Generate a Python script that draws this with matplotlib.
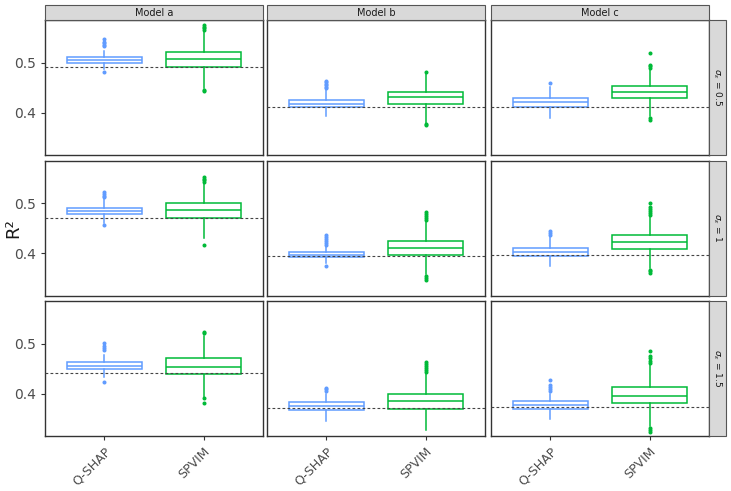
import matplotlib
matplotlib.use("Agg")
import matplotlib.pyplot as plt
from matplotlib.patches import Rectangle

models = ["Model a", "Model b", "Model c"]
sigmas = ["0.5", "1", "1.5"]
methods = ["Q-SHAP", "SPVIM"]
colors = ["#619CFF", "#00BA38"]

# [row (sigma)][col (model)][method]
q1 = [[[.500, .492], [.412, .418], [.412, .430]],
      [[.478, .471], [.392, .397], [.394, .409]],
      [[.449, .440], [.368, .369], [.370, .381]]]
med = [[[.506, .507], [.418, .431], [.422, .442]],
       [[.484, .486], [.396, .411], [.402, .423]],
       [[.455, .453], [.375, .386], [.378, .396]]]
q3 = [[[.512, .522], [.426, .442], [.430, .453]],
      [[.490, .500], [.402, .424], [.411, .436]],
      [[.464, .471], [.383, .400], [.385, .413]]]
whislo = [[[.488, .450], [.394, .380], [.390, .393]],
          [[.461, .430], [.380, .358], [.375, .370]],
          [[.433, .390], [.346, .327], [.349, .336]]]
whishi = [[[.524, .563], [.446, .478], [.452, .487]],
          [[.508, .540], [.414, .463], [.434, .472]],
          [[.478, .516], [.400, .441], [.400, .457]]]
fliers = [[[[.482, .533, .536, .539, .542, .548], [.443, .446, .566, .569, .572, .575]],
           [[.449, .452, .455, .458, .461, .464], [.376, .378, .482]],
           [[.460], [.385, .389, .490, .493, .496, .520]]],
          [[[.457, .512, .515, .519, .523], [.417, .543, .546, .549, .552]],
           [[.374, .417, .421, .425, .429, .433, .436], [.347, .350, .354, .467, .471, .475, .479, .483]],
           [[.437, .440, .444], [.360, .364, .367, .476, .480, .484, .488, .492, .501]]],
          [[[.424, .487, .491, .496, .502], [.381, .391, .521, .524]],
           [[.406, .409, .412], [.444, .448, .452, .456, .460, .464]],
           [[.405, .409, .413, .417, .428], [.324, .327, .331, .461, .466, .471, .476, .486]]]]
truth = [[.492, .412, .412],
         [.471, .395, .397],
         [.441, .371, .373]]
yticks = [0.4, 0.5]

W, H = 731, 491
fig = plt.figure(figsize=(W / 100, H / 100), dpi=100)

col_x = [45, 267, 491]
col_w = 218
row_y = [20, 160.5, 301]
row_h = 135
border = "#333333"
strip_bg = "#D9D9D9"

def fx(px):
    return px / W

def fy(py):
    return 1 - py / H

for r in range(3):
    for c in range(3):
        ax = fig.add_axes([fx(col_x[c]), fy(row_y[r] + row_h), col_w / W, row_h / H])
        stats = []
        for m in range(2):
            stats.append(dict(med=med[r][c][m], q1=q1[r][c][m], q3=q3[r][c][m],
                              whislo=whislo[r][c][m], whishi=whishi[r][c][m],
                              fliers=fliers[r][c][m], label=methods[m]))
        bp = ax.bxp(stats, positions=[1, 2], widths=0.75, patch_artist=True,
                    showcaps=False, manage_ticks=False)
        for m in range(2):
            col = colors[m]
            bp["boxes"][m].set(facecolor="white", edgecolor=col, linewidth=1.1)
            bp["medians"][m].set(color=col, linewidth=1.1)
            for w in bp["whiskers"][2 * m:2 * m + 2]:
                w.set(color=col, linewidth=1.1)
            bp["fliers"][m].set(marker="o", markerfacecolor=col, markeredgecolor=col,
                                markersize=1.9, linestyle="none")
        ax.axhline(truth[r][c], color="#444444", linestyle=(0, (2.5, 2)), linewidth=0.8, zorder=5)
        ax.set_xlim(0.4, 2.6)
        ax.set_ylim(0.3156, 0.5860)
        ax.set_yticks(yticks)
        ax.set_xticks([1, 2])
        for s in ax.spines.values():
            s.set_color(border)
            s.set_linewidth(1.0)
        ax.tick_params(axis="both", colors="#333333", length=3, width=0.8,
                       labelcolor="#4D4D4D", labelsize=10)
        if c == 0:
            ax.set_yticklabels([f"{v:.1f}" for v in yticks])
        else:
            ax.set_yticklabels([])
            ax.tick_params(axis="y", length=0)
        if r == 2:
            ax.set_xticklabels(methods, rotation=45, ha="right", rotation_mode="anchor",
                               fontsize=9)
        else:
            ax.set_xticklabels([])
            ax.tick_params(axis="x", length=0)

# top strips
for c in range(3):
    fig.patches.append(Rectangle((fx(col_x[c]), fy(20)), col_w / W, 15 / H,
                                 transform=fig.transFigure, facecolor=strip_bg,
                                 edgecolor="#555555", linewidth=0.8))
    fig.text(fx(col_x[c] + col_w / 2), fy(12.5), models[c], ha="center", va="center",
             fontsize=7, color="#1A1A1A")

# right strips
for r in range(3):
    fig.patches.append(Rectangle((fx(709), fy(row_y[r] + row_h)), 17 / W, row_h / H,
                                 transform=fig.transFigure, facecolor=strip_bg,
                                 edgecolor="#555555", linewidth=0.8))
    fig.text(fx(717.5), fy(row_y[r] + row_h / 2), r"$\sigma_{\epsilon}$ = " + sigmas[r],
             ha="center", va="center", rotation=-90, fontsize=6.5, color="#1A1A1A")

fig.text(fx(13), fy(228), "R²", rotation=90, ha="center", va="center", fontsize=13, color="#1A1A1A")

fig.savefig("out.png", dpi=100, facecolor="white")
